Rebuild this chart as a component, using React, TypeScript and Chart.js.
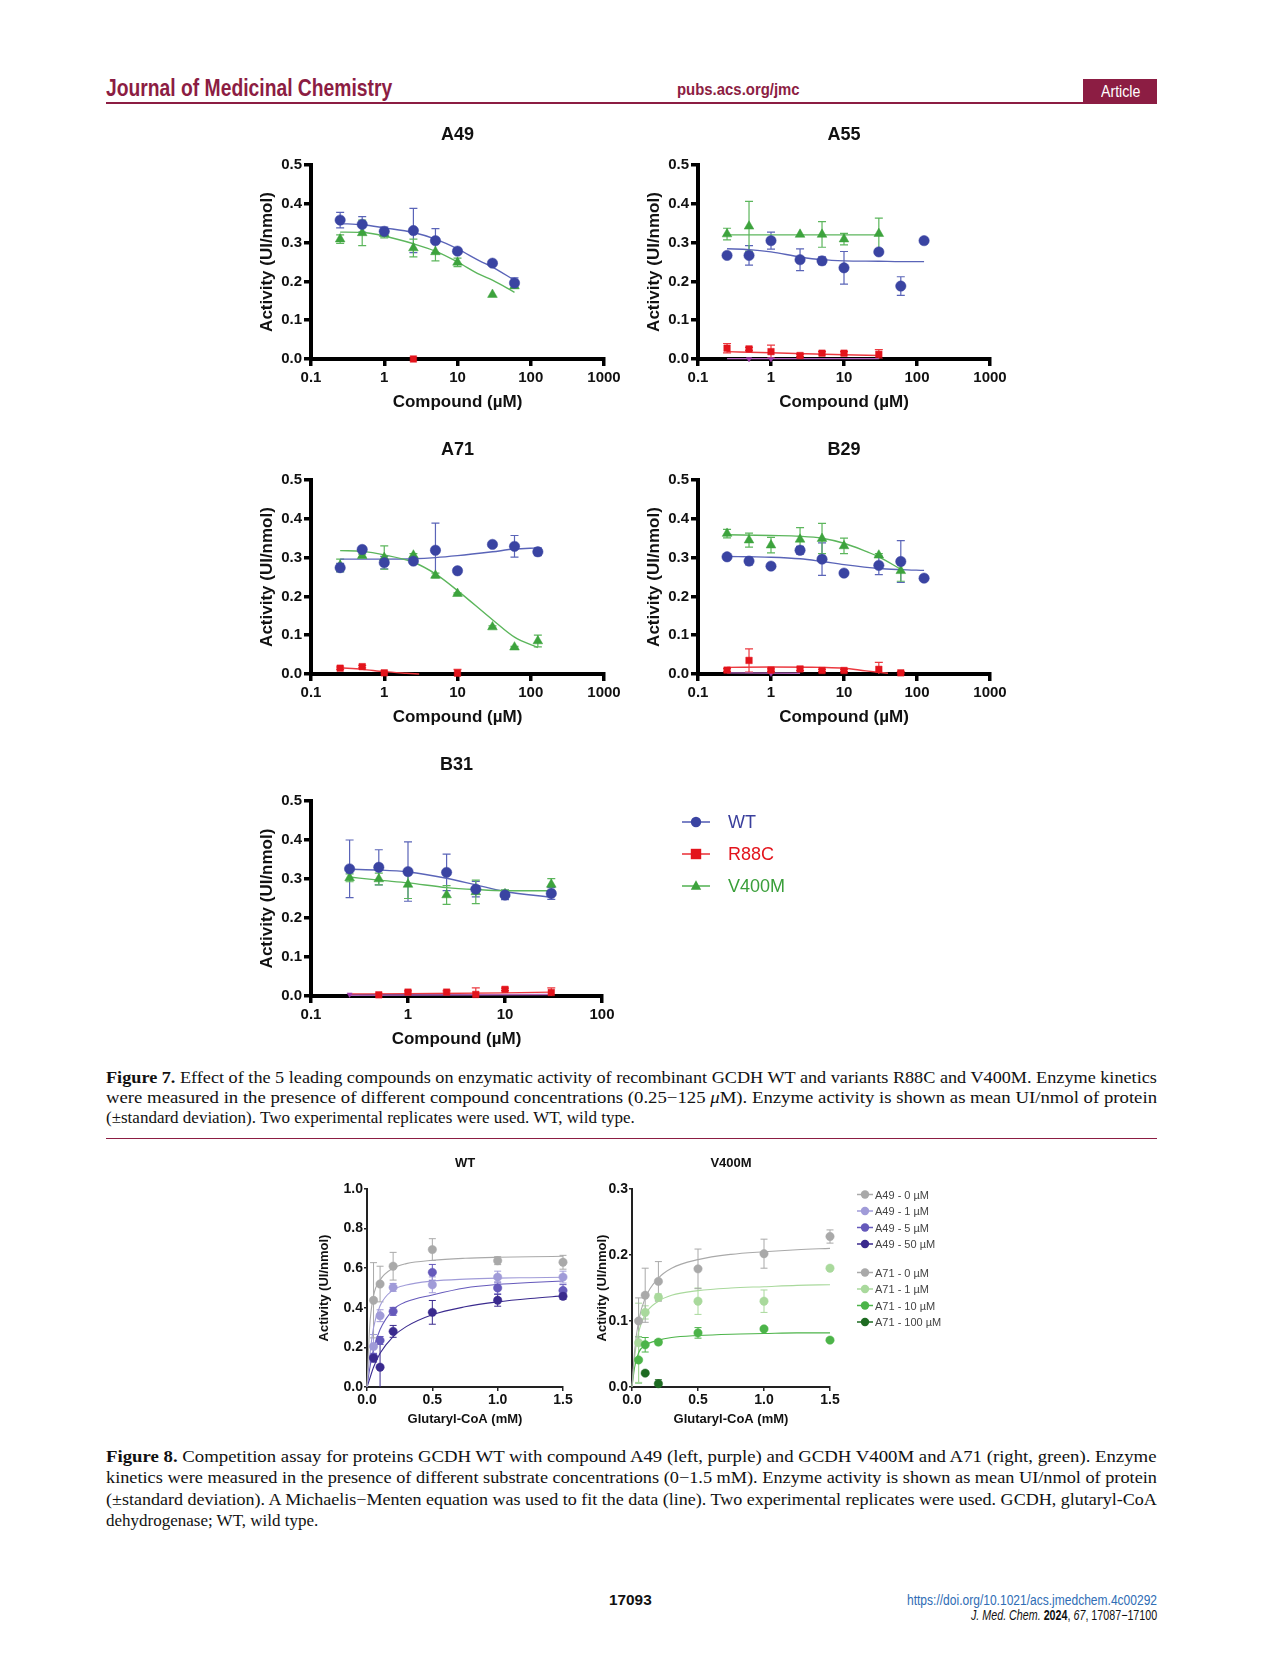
import React, { useEffect, useLayoutEffect, useRef } from "react";
import { Chart, registerables } from "chart.js";

Chart.register(...registerables);

const SANS = "'Liberation Sans', Arial, Helvetica, sans-serif";
const SERIF = "'Liberation Serif', 'Times New Roman', serif";
const MAROON = "#8c1d43";

// ---------------- Figure 7 : tick labels ----------------
const LOG_TICKS_WIDE = [0.1, 1, 10, 100, 1000];
const LOG_TICKS_NARROW = [0.1, 1, 10, 100];
const ACTIVITY_TICKS = [0, 0.1, 0.2, 0.3, 0.4, 0.5];
const FIG7_LEGEND_LABELS = ["WT", "R88C", "V400M"];

// ---------------- Figure 7 : A49 ----------------
const A49_WT_X = [0.25, 0.5, 1, 2.5, 5, 10, 30, 60];
const A49_WT_Y = [0.358, 0.347, 0.329, 0.331, 0.305, 0.278, 0.247, 0.196];
const A49_WT_SD = [0.02, 0.02, 0.011, 0.057, 0.031, 0.006, 0, 0.013];
const A49_WT_FIT_X = [0.25, 0.5, 1, 2.5, 5, 10, 20, 30, 60];
const A49_WT_FIT_Y = [0.349, 0.346, 0.338, 0.326, 0.309, 0.284, 0.253, 0.237, 0.203];
const A49_V_X = [0.25, 0.5, 1, 2.5, 5, 10, 30, 60];
const A49_V_Y = [0.309, 0.325, 0.323, 0.286, 0.276, 0.249, 0.166, 0.188];
const A49_V_SD = [0.011, 0.033, 0.011, 0.023, 0.023, 0.011, 0, 0.006];
const A49_V_FIT_X = [0.25, 0.5, 1, 2.5, 5, 10, 20, 30, 60];
const A49_V_FIT_Y = [0.327, 0.326, 0.317, 0.297, 0.278, 0.25, 0.218, 0.203, 0.172];
const A49_R_X = [2.5];
const A49_R_Y = [0.0];
const A49_R_SD = [0];

// ---------------- Figure 7 : A55 ----------------
const A55_WT_X = [0.25, 0.5, 1, 2.5, 5, 10, 30, 60, 125];
const A55_WT_Y = [0.267, 0.267, 0.305, 0.256, 0.253, 0.235, 0.276, 0.188, 0.305];
const A55_WT_SD = [0, 0.025, 0.022, 0.028, 0.01, 0.042, 0.004, 0.024, 0];
const A55_WT_FIT_X = [0.25, 0.5, 1, 2.5, 5, 10, 30, 60, 125];
const A55_WT_FIT_Y = [0.284, 0.282, 0.276, 0.263, 0.256, 0.253, 0.252, 0.251, 0.251];
const A55_V_X = [0.25, 0.5, 2.5, 5, 10, 30];
const A55_V_Y = [0.322, 0.342, 0.321, 0.321, 0.309, 0.323];
const A55_V_SD = [0.015, 0.064, 0, 0.033, 0.015, 0.04];
const A55_V_FIT_X = [0.25, 30];
const A55_V_FIT_Y = [0.32, 0.32];
const A55_R_X = [0.25, 0.5, 1, 2.5, 5, 10, 30];
const A55_R_Y = [0.028, 0.026, 0.019, 0.009, 0.015, 0.015, 0.012];
const A55_R_SD = [0.012, 0.004, 0.017, 0.003, 0.004, 0.004, 0.012];
const A55_R_FIT_X = [0.25, 1, 10, 30];
const A55_R_FIT_Y = [0.019, 0.016, 0.011, 0.009];
const A55_P_X = [0.5, 1];
const A55_P_Y = [0.0, 0.0];
const A55_P_FIT_X = [0.25, 30];
const A55_P_FIT_Y = [0.001, 0.001];

// ---------------- Figure 7 : A71 ----------------
const A71_WT_X = [0.25, 0.5, 1, 2.5, 5, 10, 30, 60, 125];
const A71_WT_Y = [0.274, 0.321, 0.287, 0.291, 0.319, 0.266, 0.334, 0.329, 0.315];
const A71_WT_SD = [0.011, 0, 0.016, 0.006, 0.07, 0, 0, 0.028, 0.01];
const A71_WT_FIT_X = [0.25, 0.5, 1, 2.5, 5, 10, 30, 60, 125];
const A71_WT_FIT_Y = [0.296, 0.296, 0.296, 0.297, 0.3, 0.305, 0.315, 0.322, 0.325];
const A71_V_X = [0.25, 0.5, 1, 2.5, 5, 10, 30, 60, 125];
const A71_V_Y = [0.28, 0.305, 0.3, 0.306, 0.254, 0.207, 0.121, 0.069, 0.085];
const A71_V_SD = [0.016, 0.004, 0.03, 0.004, 0.006, 0.002, 0.003, 0.002, 0.015];
const A71_V_FIT_X = [0.25, 0.5, 1, 2.5, 5, 10, 30, 60, 125];
const A71_V_FIT_Y = [0.318, 0.316, 0.307, 0.288, 0.258, 0.215, 0.14, 0.095, 0.068];
const A71_R_X = [0.25, 0.5, 1, 10];
const A71_R_Y = [0.015, 0.019, 0.003, 0.002];
const A71_R_SD = [0.003, 0.003, 0.004, 0.01];
const A71_R_FIT_X = [0.25, 0.5, 1, 2, 3];
const A71_R_FIT_Y = [0.016, 0.012, 0.006, 0.002, 0.0];

// ---------------- Figure 7 : B29 ----------------
const B29_WT_X = [0.25, 0.5, 1, 2.5, 5, 10, 30, 60, 125];
const B29_WT_Y = [0.302, 0.291, 0.278, 0.319, 0.296, 0.26, 0.28, 0.29, 0.247];
const B29_WT_SD = [0.004, 0.01, 0, 0.01, 0.042, 0, 0.024, 0.054, 0];
const B29_WT_FIT_X = [0.25, 0.5, 1, 2.5, 5, 10, 30, 60, 125];
const B29_WT_FIT_Y = [0.303, 0.302, 0.301, 0.297, 0.29, 0.282, 0.272, 0.269, 0.267];
const B29_V_X = [0.25, 0.5, 1, 2.5, 5, 10, 30, 60];
const B29_V_Y = [0.362, 0.345, 0.332, 0.347, 0.349, 0.33, 0.306, 0.266];
const B29_V_SD = [0.011, 0.018, 0.02, 0.03, 0.039, 0.02, 0.004, 0.027];
const B29_V_FIT_X = [0.25, 1, 2.5, 5, 10, 20, 30, 60];
const B29_V_FIT_Y = [0.359, 0.357, 0.355, 0.35, 0.337, 0.316, 0.302, 0.27];
const B29_R_X = [0.25, 0.5, 1, 2.5, 5, 10, 30, 60];
const B29_R_Y = [0.01, 0.035, 0.01, 0.013, 0.009, 0.009, 0.012, 0.003];
const B29_R_SD = [0.004, 0.03, 0.003, 0.004, 0.003, 0.003, 0.018, 0.003];
const B29_R_FIT_X = [0.25, 1, 5, 10, 20, 40];
const B29_R_FIT_Y = [0.017, 0.018, 0.017, 0.015, 0.008, 0.002];
const B29_P_X = [1];
const B29_P_Y = [0.001];
const B29_P_FIT_X = [0.25, 2.5];
const B29_P_FIT_Y = [0.003, 0.002];

// ---------------- Figure 7 : B31 ----------------
const B31_WT_X = [0.25, 0.5, 1, 2.5, 5, 10, 30];
const B31_WT_Y = [0.326, 0.33, 0.319, 0.317, 0.274, 0.259, 0.263];
const B31_WT_SD = [0.074, 0.045, 0.076, 0.047, 0.02, 0.012, 0.015];
const B31_WT_FIT_X = [0.25, 0.5, 1, 2.5, 5, 10, 30];
const B31_WT_FIT_Y = [0.325, 0.323, 0.318, 0.302, 0.285, 0.268, 0.253];
const B31_V_X = [0.25, 0.5, 1, 2.5, 5, 10, 30];
const B31_V_Y = [0.303, 0.3, 0.286, 0.259, 0.267, 0.262, 0.286];
const B31_V_SD = [0.01, 0.015, 0.036, 0.024, 0.03, 0.01, 0.015];
const B31_V_FIT_X = [0.25, 0.5, 1, 2.5, 5, 10, 30];
const B31_V_FIT_Y = [0.305, 0.297, 0.29, 0.278, 0.273, 0.27, 0.27];
const B31_R_X = [0.5, 1, 2.5, 5, 10, 30];
const B31_R_Y = [0.003, 0.01, 0.01, 0.004, 0.017, 0.009];
const B31_R_SD = [0.002, 0.003, 0.003, 0.017, 0.003, 0.012];
const B31_R_FIT_X = [0.25, 1, 10, 30];
const B31_R_FIT_Y = [0.005, 0.006, 0.008, 0.01];
const B31_P_X = [0.25];
const B31_P_Y = [0.004];
const B31_P_FIT_X = [0.25, 30];
const B31_P_FIT_Y = [0.002, 0.004];

// ---------------- Figure 8 data ----------------
const SUBSTRATE_X = [0.05, 0.1, 0.2, 0.5, 1.0, 1.5];
const FIT8_X = [0, 0.02, 0.05, 0.1, 0.2, 0.3, 0.5, 0.75, 1.0, 1.25, 1.5];
const SUB_TICKS = [0, 0.5, 1.0, 1.5];
const WT8_Y_TICKS = [0, 0.2, 0.4, 0.6, 0.8, 1.0];
const V8_Y_TICKS = [0, 0.1, 0.2, 0.3];
const FIG8_LEGEND_LABELS = [
  "A49 - 0 µM", "A49 - 1 µM", "A49 - 5 µM", "A49 - 50 µM",
  "A71 - 0 µM", "A71 - 1 µM", "A71 - 10 µM", "A71 - 100 µM",
];

const A49_0_Y = [0.438, 0.52, 0.61, 0.694, 0.638, 0.63];
const A49_0_SD = [0.19, 0.09, 0.07, 0.055, 0.02, 0.035];
const A49_0_FIT = [0, 0.3, 0.46, 0.54, 0.6, 0.623, 0.64, 0.65, 0.655, 0.658, 0.66];
const A49_1_Y = [0.205, 0.36, 0.503, 0.516, 0.555, 0.555];
const A49_1_SD = [0.06, 0.03, 0.02, 0.04, 0.03, 0.03];
const A49_1_FIT = [0, 0.15, 0.3, 0.41, 0.49, 0.515, 0.535, 0.545, 0.55, 0.552, 0.554];
const A49_5_Y = [0.15, 0.235, 0.382, 0.579, 0.5, 0.487];
const A49_5_SD = [0.02, 0.02, 0.02, 0.04, 0.03, 0.03];
const A49_5_FIT = [0, 0.09, 0.19, 0.29, 0.39, 0.43, 0.465, 0.5, 0.518, 0.528, 0.535];
const A49_50_Y = [0.146, 0.1, 0.281, 0.377, 0.438, 0.458];
const A49_50_SD = [0.02, 0.13, 0.03, 0.06, 0.03, 0.015];
const A49_50_FIT = [0, 0.04, 0.1, 0.17, 0.255, 0.305, 0.365, 0.405, 0.43, 0.447, 0.46];

const A71_0_Y = [0.1, 0.139, 0.16, 0.179, 0.202, 0.228];
const A71_0_SD = [0.035, 0.041, 0.03, 0.03, 0.022, 0.01];
const A71_0_FIT = [0, 0.055, 0.1, 0.135, 0.165, 0.18, 0.193, 0.201, 0.205, 0.208, 0.21];
const A71_1_Y = [0.067, 0.113, 0.136, 0.13, 0.13, 0.18];
const A71_1_SD = [0.06, 0.01, 0.005, 0.02, 0.017, 0];
const A71_1_FIT = [0, 0.045, 0.083, 0.11, 0.13, 0.139, 0.146, 0.15, 0.152, 0.154, 0.155];
const A71_10_Y = [0.041, 0.064, 0.068, 0.082, 0.088, 0.071];
const A71_10_SD = [0.035, 0.011, 0.004, 0.008, 0, 0];
const A71_10_FIT = [0, 0.03, 0.052, 0.063, 0.071, 0.075, 0.078, 0.08, 0.081, 0.082, 0.082];
const A71_100_X = [0.1, 0.2];
const A71_100_Y = [0.021, 0.005];
const A71_100_SD = [0, 0.006];

// ---------------- colours ----------------
const WT_COLOR = "#3a44a2";
const WT_LINE = "#5a64b8";
const R_COLOR = "#e3141c";
const R_LINE = "#ec3a40";
const V_COLOR = "#3da33d";
const V_LINE = "#5cb65c";
const P_COLOR = "#a23cae";
const P_LINE = "#b162bc";

// ---------------- series builders ----------------
function ser(label: string, x: number[], y: number[], sd: number[], fitX: number[], fitY: number[], color: string, lineColor: string, style: string, radius: number, rotation = 0) {
  return { label, x, y, sd, fitX, fitY, color, lineColor, style, radius, rotation };
}
const wt = (x: number[], y: number[], sd: number[], fx: number[], fy: number[]) => ser("WT", x, y, sd, fx, fy, WT_COLOR, WT_LINE, "circle", 5.2);
const r88 = (x: number[], y: number[], sd: number[], fx: number[], fy: number[]) => ser("R88C", x, y, sd, fx, fy, R_COLOR, R_LINE, "rect", 4.6);
const v400 = (x: number[], y: number[], sd: number[], fx: number[], fy: number[]) => ser("V400M", x, y, sd, fx, fy, V_COLOR, V_LINE, "triangle", 5.6);
const purple = (x: number[], y: number[], fx: number[], fy: number[]) => ser("", x, y, x.map(() => 0), fx, fy, P_COLOR, P_LINE, "triangle", 3, 180);

const FIG7_PANELS = [
  {
    title: "A49", plot: [311, 165, 604, 359], xMax: 1000, xTicks: LOG_TICKS_WIDE, titleGap: 29.5, legend: false,
    series: [
      r88(A49_R_X, A49_R_Y, A49_R_SD, [], []),
      v400(A49_V_X, A49_V_Y, A49_V_SD, A49_V_FIT_X, A49_V_FIT_Y),
      wt(A49_WT_X, A49_WT_Y, A49_WT_SD, A49_WT_FIT_X, A49_WT_FIT_Y),
    ],
  },
  {
    title: "A55", plot: [698, 165, 990, 359], xMax: 1000, xTicks: LOG_TICKS_WIDE, titleGap: 29.5, legend: false,
    series: [
      purple(A55_P_X, A55_P_Y, A55_P_FIT_X, A55_P_FIT_Y),
      r88(A55_R_X, A55_R_Y, A55_R_SD, A55_R_FIT_X, A55_R_FIT_Y),
      v400(A55_V_X, A55_V_Y, A55_V_SD, A55_V_FIT_X, A55_V_FIT_Y),
      wt(A55_WT_X, A55_WT_Y, A55_WT_SD, A55_WT_FIT_X, A55_WT_FIT_Y),
    ],
  },
  {
    title: "A71", plot: [311, 480, 604, 674], xMax: 1000, xTicks: LOG_TICKS_WIDE, titleGap: 29.5, legend: false,
    series: [
      r88(A71_R_X, A71_R_Y, A71_R_SD, A71_R_FIT_X, A71_R_FIT_Y),
      v400(A71_V_X, A71_V_Y, A71_V_SD, A71_V_FIT_X, A71_V_FIT_Y),
      wt(A71_WT_X, A71_WT_Y, A71_WT_SD, A71_WT_FIT_X, A71_WT_FIT_Y),
    ],
  },
  {
    title: "B29", plot: [698, 480, 990, 674], xMax: 1000, xTicks: LOG_TICKS_WIDE, titleGap: 29.5, legend: false,
    series: [
      purple(B29_P_X, B29_P_Y, B29_P_FIT_X, B29_P_FIT_Y),
      r88(B29_R_X, B29_R_Y, B29_R_SD, B29_R_FIT_X, B29_R_FIT_Y),
      v400(B29_V_X, B29_V_Y, B29_V_SD, B29_V_FIT_X, B29_V_FIT_Y),
      wt(B29_WT_X, B29_WT_Y, B29_WT_SD, B29_WT_FIT_X, B29_WT_FIT_Y),
    ],
  },
  {
    title: "B31", plot: [311, 801, 602, 996], xMax: 100, xTicks: LOG_TICKS_NARROW, titleGap: 36, legend: true,
    series: [
      purple(B31_P_X, B31_P_Y, B31_P_FIT_X, B31_P_FIT_Y),
      r88(B31_R_X, B31_R_Y, B31_R_SD, B31_R_FIT_X, B31_R_FIT_Y),
      v400(B31_V_X, B31_V_Y, B31_V_SD, B31_V_FIT_X, B31_V_FIT_Y),
      wt(B31_WT_X, B31_WT_Y, B31_WT_SD, B31_WT_FIT_X, B31_WT_FIT_Y),
    ],
  },
];

const G_A49 = ["#a9a9a9", "#a09bd8", "#6559bb", "#3a2a8e"];
const G_A71 = ["#a9a9a9", "#a9d99c", "#4cb449", "#1e6b22"];

const FIG8_WT_SERIES = [
  ser(FIG8_LEGEND_LABELS[0], SUBSTRATE_X, A49_0_Y, A49_0_SD, FIT8_X, A49_0_FIT, G_A49[0], G_A49[0], "circle", 4.2),
  ser(FIG8_LEGEND_LABELS[1], SUBSTRATE_X, A49_1_Y, A49_1_SD, FIT8_X, A49_1_FIT, G_A49[1], G_A49[1], "circle", 4.2),
  ser(FIG8_LEGEND_LABELS[2], SUBSTRATE_X, A49_5_Y, A49_5_SD, FIT8_X, A49_5_FIT, G_A49[2], G_A49[2], "circle", 4.2),
  ser(FIG8_LEGEND_LABELS[3], SUBSTRATE_X, A49_50_Y, A49_50_SD, FIT8_X, A49_50_FIT, G_A49[3], G_A49[3], "circle", 4.2),
];
const FIG8_V_SERIES = [
  ser(FIG8_LEGEND_LABELS[4], SUBSTRATE_X, A71_0_Y, A71_0_SD, FIT8_X, A71_0_FIT, G_A71[0], G_A71[0], "circle", 4.2),
  ser(FIG8_LEGEND_LABELS[5], SUBSTRATE_X, A71_1_Y, A71_1_SD, FIT8_X, A71_1_FIT, G_A71[1], G_A71[1], "circle", 4.2),
  ser(FIG8_LEGEND_LABELS[6], SUBSTRATE_X, A71_10_Y, A71_10_SD, FIT8_X, A71_10_FIT, G_A71[2], G_A71[2], "circle", 4.2),
  ser(FIG8_LEGEND_LABELS[7], A71_100_X, A71_100_Y, A71_100_SD, [], [], G_A71[3], G_A71[3], "circle", 4.2),
];

// ---------------- plugins ----------------
function drawMarker(ctx: any, style: string, x: number, y: number, r: number, color: string) {
  ctx.fillStyle = color;
  ctx.beginPath();
  if (style === "circle") ctx.arc(x, y, r, 0, Math.PI * 2);
  else if (style === "rect") ctx.rect(x - r, y - r, 2 * r, 2 * r);
  else {
    ctx.moveTo(x, y - r * 1.1);
    ctx.lineTo(x + r, y + r * 0.7);
    ctx.lineTo(x - r, y + r * 0.7);
    ctx.closePath();
  }
  ctx.fill();
}

const errorBars = {
  id: "errorBars",
  beforeDatasetsDraw(chart: any) {
    const { ctx, chartArea } = chart;
    const ys = chart.scales.y;
    chart.data.datasets.forEach((ds: any, i: number) => {
      if (!ds.sd) return;
      const meta = chart.getDatasetMeta(i);
      ctx.save();
      ctx.beginPath();
      ctx.rect(chartArea.left - 30, chartArea.top - 40, chartArea.width + 60, chartArea.height + 40);
      ctx.clip();
      ctx.strokeStyle = ds.errColor;
      ctx.lineWidth = ds.errWidth;
      meta.data.forEach((el: any, j: number) => {
        const sd = ds.sd[j];
        if (!sd) return;
        const v = ds.data[j].y;
        const y1 = ys.getPixelForValue(v + sd);
        const y2 = ys.getPixelForValue(v - sd);
        const x = el.x;
        const c = ds.capHalf;
        ctx.beginPath();
        ctx.moveTo(x, y1); ctx.lineTo(x, y2);
        ctx.moveTo(x - c, y1); ctx.lineTo(x + c, y1);
        ctx.moveTo(x - c, y2); ctx.lineTo(x + c, y2);
        ctx.stroke();
      });
      ctx.restore();
    });
  },
};

const decor = {
  id: "decor",
  afterDraw(chart: any, _args: any, opts: any) {
    const { ctx, chartArea } = chart;
    if (opts.title) {
      ctx.save();
      ctx.font = opts.titleFont;
      ctx.fillStyle = "#111";
      ctx.textAlign = "center";
      ctx.textBaseline = "middle";
      ctx.fillText(opts.title, (chartArea.left + chartArea.right) / 2, chartArea.top - opts.titleGap);
      ctx.restore();
    }
    if (opts.legend) {
      const L = opts.legend;
      ctx.save();
      L.items.forEach((it: any, i: number) => {
        const y = chartArea.top + L.top + i * L.gap + (L.breakAt && i >= L.breakAt ? L.breakExtra : 0);
        const mx = chartArea.right + L.markerX;
        ctx.strokeStyle = it.lineColor;
        ctx.lineWidth = L.lineWidth;
        ctx.beginPath();
        ctx.moveTo(mx - L.lineHalf, y);
        ctx.lineTo(mx + L.lineHalf, y);
        ctx.stroke();
        drawMarker(ctx, it.style, mx, y, L.markerR, it.color);
        ctx.font = L.font;
        ctx.fillStyle = it.textColor;
        ctx.textAlign = "left";
        ctx.textBaseline = "middle";
        ctx.fillText(it.label, chartArea.right + L.textX, y + 1);
      });
      ctx.restore();
    }
  },
};

Chart.register(errorBars, decor);

// ---------------- dataset builders ----------------
function pointDataset(s: any, capHalf: number, errWidth: number) {
  return {
    type: "scatter",
    label: s.label,
    data: s.x.map((x: number, i: number) => ({ x, y: s.y[i] })),
    sd: s.sd,
    errColor: s.lineColor,
    errWidth,
    capHalf,
    pointStyle: s.style,
    pointRadius: s.radius,
    pointRotation: s.rotation,
    pointBackgroundColor: s.color,
    pointBorderColor: s.color,
    pointBorderWidth: 0.5,
    showLine: false,
    clip: false,
    order: 0,
  };
}
function fitDataset(s: any, width: number) {
  return {
    type: "line",
    label: s.label + " fit",
    data: s.fitX.map((x: number, i: number) => ({ x, y: s.fitY[i] })),
    borderColor: s.lineColor,
    borderWidth: width,
    pointRadius: 0,
    cubicInterpolationMode: "monotone",
    fill: false,
    clip: false,
    order: 1,
  };
}

// ---------------- Figure 7 layout constants ----------------
const F7 = { yW: 54, xH: 54, padL: 8, padT: 50, padB: 4, padR: 30, padRLegend: 230 };

function fig7Box(p: any) {
  const [L, T, R, B] = p.plot;
  const padR = p.legend ? F7.padRLegend : F7.padR;
  return {
    left: L - F7.yW - F7.padL,
    top: T - F7.padT,
    width: F7.padL + F7.yW + (R - L) + padR,
    height: F7.padT + (B - T) + F7.xH + F7.padB,
  };
}

function fig7Config(p: any) {
  const datasets: any[] = [];
  [...p.series].reverse().forEach((s: any) => datasets.push(pointDataset(s, 4, 1.2)));
  p.series.forEach((s: any) => { if (s.fitX.length) datasets.push(fitDataset(s, 1.4)); });
  const tickFont = { family: SANS, size: 15, weight: "bold" };
  const titleFont = { family: SANS, size: 17, weight: "bold" };
  const legendItems = [
    { label: FIG7_LEGEND_LABELS[0], color: WT_COLOR, lineColor: WT_LINE, textColor: "#3a3f9c", style: "circle" },
    { label: FIG7_LEGEND_LABELS[1], color: R_COLOR, lineColor: R_LINE, textColor: "#e3141c", style: "rect" },
    { label: FIG7_LEGEND_LABELS[2], color: V_COLOR, lineColor: V_LINE, textColor: "#3a9f3a", style: "triangle" },
  ];
  return {
    type: "scatter",
    data: { datasets },
    options: {
      responsive: false,
      animation: false,
      devicePixelRatio: 1,
      events: [],
      layout: { padding: { left: F7.padL, top: F7.padT, bottom: F7.padB, right: p.legend ? F7.padRLegend : F7.padR } },
      plugins: {
        legend: { display: false },
        tooltip: { enabled: false },
        decor: {
          title: p.title,
          titleFont: `bold 18px ${SANS}`,
          titleGap: p.titleGap,
          legend: p.legend
            ? { items: legendItems, markerX: 94, textX: 126, top: 21, gap: 32, lineHalf: 14, lineWidth: 1.6, markerR: 5.2, font: `18px ${SANS}` }
            : null,
        },
      },
      scales: {
        x: {
          type: "logarithmic",
          min: 0.1,
          max: p.xMax,
          afterBuildTicks: (s: any) => { s.ticks = p.xTicks.map((v: number) => ({ value: v })); },
          afterFit: (s: any) => { s.height = F7.xH; },
          ticks: { callback: (v: any) => String(v), font: tickFont, color: "#111", padding: 3, maxRotation: 0, autoSkip: false },
          grid: { display: true, drawOnChartArea: false, drawTicks: true, tickLength: 7, tickWidth: 3.5, tickColor: "#000", color: "#000", lineWidth: 3.5 },
          border: { display: true, color: "#000", width: 4 },
          title: { display: true, text: "Compound (µM)", font: titleFont, color: "#111", padding: 0 },
        },
        y: {
          type: "linear",
          min: 0,
          max: 0.5,
          afterBuildTicks: (s: any) => { s.ticks = ACTIVITY_TICKS.map((v) => ({ value: v })); },
          afterFit: (s: any) => { s.width = F7.yW; },
          ticks: { callback: (v: any) => Number(v).toFixed(1), font: tickFont, color: "#111", padding: 2 },
          grid: { display: true, drawOnChartArea: false, drawTicks: true, tickLength: 7, tickWidth: 3.5, tickColor: "#000", color: "#000", lineWidth: 3.5 },
          border: { display: true, color: "#000", width: 4 },
          title: { display: true, text: "Activity (UI/nmol)", font: titleFont, color: "#111", padding: 0 },
        },
      },
    },
  };
}

// ---------------- Figure 8 ----------------
const FIG8_PANELS = [
  { title: "WT", plot: [367, 1189, 563, 1387], yMax: 1.0, yTicks: WT8_Y_TICKS, yW: 50, padR: 16, series: FIG8_WT_SERIES, legend: false },
  { title: "V400M", plot: [632, 1189, 830, 1387], yMax: 0.3, yTicks: V8_Y_TICKS, yW: 37, padR: 140, series: FIG8_V_SERIES, legend: true },
];
const F8 = { xH: 40, padL: 4, padT: 40, padB: 4 };

function fig8Box(p: any) {
  const [L, T, R, B] = p.plot;
  return {
    left: L - p.yW - F8.padL,
    top: T - F8.padT,
    width: F8.padL + p.yW + (R - L) + p.padR,
    height: F8.padT + (B - T) + F8.xH + F8.padB,
  };
}

function fig8Config(p: any) {
  const datasets: any[] = [];
  [...p.series].reverse().forEach((s: any) => datasets.push(pointDataset(s, 3.5, 1)));
  p.series.forEach((s: any) => { if (s.fitX.length) datasets.push(fitDataset(s, 1.1)); });
  const tickFont = { family: SANS, size: 14, weight: "bold" };
  const titleFont = { family: SANS, size: 13, weight: "bold" };
  const items = FIG8_LEGEND_LABELS.map((label, i) => {
    const c = i < 4 ? G_A49[i] : G_A71[i - 4];
    return { label, color: c, lineColor: c, textColor: "#444", style: "circle" };
  });
  return {
    type: "scatter",
    data: { datasets },
    options: {
      responsive: false,
      animation: false,
      devicePixelRatio: 1,
      events: [],
      layout: { padding: { left: F8.padL, top: F8.padT, bottom: F8.padB, right: p.padR } },
      plugins: {
        legend: { display: false },
        tooltip: { enabled: false },
        decor: {
          title: p.title,
          titleFont: `bold 13px ${SANS}`,
          titleGap: 26,
          legend: p.legend
            ? { items, markerX: 35, textX: 45, top: 5.5, gap: 16.5, breakAt: 4, breakExtra: 12, lineHalf: 8, lineWidth: 1.5, markerR: 4.2, font: `11px ${SANS}` }
            : null,
        },
      },
      scales: {
        x: {
          type: "linear",
          min: 0,
          max: 1.5,
          afterBuildTicks: (s: any) => { s.ticks = SUB_TICKS.map((v) => ({ value: v })); },
          afterFit: (s: any) => { s.height = F8.xH; },
          ticks: { callback: (v: any) => Number(v).toFixed(1), font: tickFont, color: "#111", padding: 1, maxRotation: 0, autoSkip: false },
          grid: { display: true, drawOnChartArea: false, drawTicks: true, tickLength: 4, tickWidth: 1.5, tickColor: "#222", color: "#222", lineWidth: 1.5 },
          border: { display: true, color: "#222", width: 2 },
          title: { display: true, text: "Glutaryl-CoA (mM)", font: titleFont, color: "#111", padding: 0 },
        },
        y: {
          type: "linear",
          min: 0,
          max: p.yMax,
          afterBuildTicks: (s: any) => { s.ticks = p.yTicks.map((v: number) => ({ value: v })); },
          afterFit: (s: any) => { s.width = p.yW; },
          ticks: { callback: (v: any) => Number(v).toFixed(1), font: tickFont, color: "#111", padding: 1 },
          grid: { display: true, drawOnChartArea: false, drawTicks: true, tickLength: 3, tickWidth: 1.5, tickColor: "#222", color: "#222", lineWidth: 1.5 },
          border: { display: true, color: "#222", width: 2 },
          title: { display: true, text: "Activity (UI/nmol)", font: titleFont, color: "#111", padding: 0 },
        },
      },
    },
  };
}

// ---------------- React ----------------
function ChartBox({ box, make }: any) {
  const ref = useRef<HTMLCanvasElement>(null);
  useEffect(() => {
    const chart = new Chart(ref.current as HTMLCanvasElement, make());
    return () => chart.destroy();
  }, []);
  return (
    <canvas
      ref={ref}
      width={box.width}
      height={box.height}
      style={{ position: "absolute", left: box.left, top: box.top, width: box.width, height: box.height }}
    />
  );
}

// text squeezed horizontally to a measured target width (condensed journal fonts)
function FitText({ left, top, width, style, children }: any) {
  const ref = useRef<HTMLSpanElement>(null);
  useLayoutEffect(() => {
    const el = ref.current as HTMLSpanElement;
    const w = el.offsetWidth;
    if (w > 0) el.style.transform = `scaleX(${width / w})`;
  }, []);
  return (
    <span
      ref={ref}
      style={{ position: "absolute", left, top, whiteSpace: "nowrap", display: "inline-block", transformOrigin: "0 0", ...style }}
    >
      {children}
    </span>
  );
}

const CAPTION_WIDTH = 1051;

// full caption lines are fitted to the column width; the last line keeps natural width
function Caption({ top, gap, lines }: any) {
  const refs = useRef<any[]>([]);
  useLayoutEffect(() => {
    refs.current.forEach((el: any, i: number) => {
      if (i === lines.length - 1) return;
      const w = el.offsetWidth;
      if (w > 0) el.style.transform = `scaleX(${CAPTION_WIDTH / w})`;
    });
  }, []);
  return (
    <>
      {lines.map((ln: any, i: number) => (
        <span
          key={i}
          ref={(el) => { refs.current[i] = el; }}
          style={{
            position: "absolute",
            left: 106,
            top: top + i * gap,
            whiteSpace: "nowrap",
            display: "inline-block",
            transformOrigin: "0 0",
            fontFamily: SERIF,
            fontSize: 17,
            lineHeight: "20px",
            color: "#111",
          }}
        >
          {ln}
        </span>
      ))}
    </>
  );
}

const CAPTION7 = [
  <><b>Figure 7.</b> Effect of the 5 leading compounds on enzymatic activity of recombinant GCDH WT and variants R88C and V400M. Enzyme kinetics</>,
  <>were measured in the presence of different compound concentrations (0.25−125 <i>μ</i>M). Enzyme activity is shown as mean UI/nmol of protein</>,
  <>(±standard deviation). Two experimental replicates were used. WT, wild type.</>,
];
const CAPTION8 = [
  <><b>Figure 8.</b> Competition assay for proteins GCDH WT with compound A49 (left, purple) and GCDH V400M and A71 (right, green). Enzyme</>,
  <>kinetics were measured in the presence of different substrate concentrations (0−1.5 mM). Enzyme activity is shown as mean UI/nmol of protein</>,
  <>(±standard deviation). A Michaelis−Menten equation was used to fit the data (line). Two experimental replicates were used. GCDH, glutaryl-CoA</>,
  <>dehydrogenase; WT, wild type.</>,
];

export default function App() {
  return (
    <div style={{ position: "absolute", left: 0, top: 0, width: 1266, height: 1669, background: "#fff", overflow: "hidden" }}>
      {/* header */}
      <FitText left={106} top={75} width={286} style={{ fontFamily: SANS, fontSize: 23, lineHeight: "26px", color: MAROON, fontWeight: 700 }}>
        Journal of Medicinal Chemistry
      </FitText>
      <FitText left={677} top={80} width={123} style={{ fontFamily: SANS, fontSize: 16, lineHeight: "19px", color: MAROON, fontWeight: 700 }}>
        pubs.acs.org/jmc
      </FitText>
      <div style={{ position: "absolute", left: 106, top: 102, width: 1051, height: 2, background: MAROON }} />
      <div style={{ position: "absolute", left: 1083, top: 79, width: 74, height: 25, background: MAROON }} />
      <FitText left={1101} top={82} width={39} style={{ fontFamily: SANS, fontSize: 16, lineHeight: "19px", color: "#fff" }}>
        Article
      </FitText>

      {/* Figure 7 */}
      {FIG7_PANELS.map((p) => (
        <ChartBox key={p.title} box={fig7Box(p)} make={() => fig7Config(p)} />
      ))}

      <Caption top={1068} gap={20} lines={CAPTION7} />
      <div style={{ position: "absolute", left: 106, top: 1138, width: 1051, height: 1, background: MAROON }} />

      {/* Figure 8 */}
      {FIG8_PANELS.map((p) => (
        <ChartBox key={p.title} box={fig8Box(p)} make={() => fig8Config(p)} />
      ))}

      <Caption top={1447} gap={21.4} lines={CAPTION8} />

      {/* footer */}
      <FitText left={609} top={1591} width={43} style={{ fontFamily: SANS, fontSize: 15, lineHeight: "18px", fontWeight: 700, color: "#111" }}>
        17093
      </FitText>
      <FitText left={907} top={1592} width={250} style={{ fontFamily: SANS, fontSize: 14, lineHeight: "16px", color: "#2f6db5" }}>
        https://doi.org/10.1021/acs.jmedchem.4c00292
      </FitText>
      <FitText left={971} top={1607} width={186} style={{ fontFamily: SANS, fontSize: 14, lineHeight: "16px", color: "#111" }}>
        <i>J. Med. Chem.</i> <b>2024</b>, <i>67</i>, 17087−17100
      </FitText>
    </div>
  );
}
